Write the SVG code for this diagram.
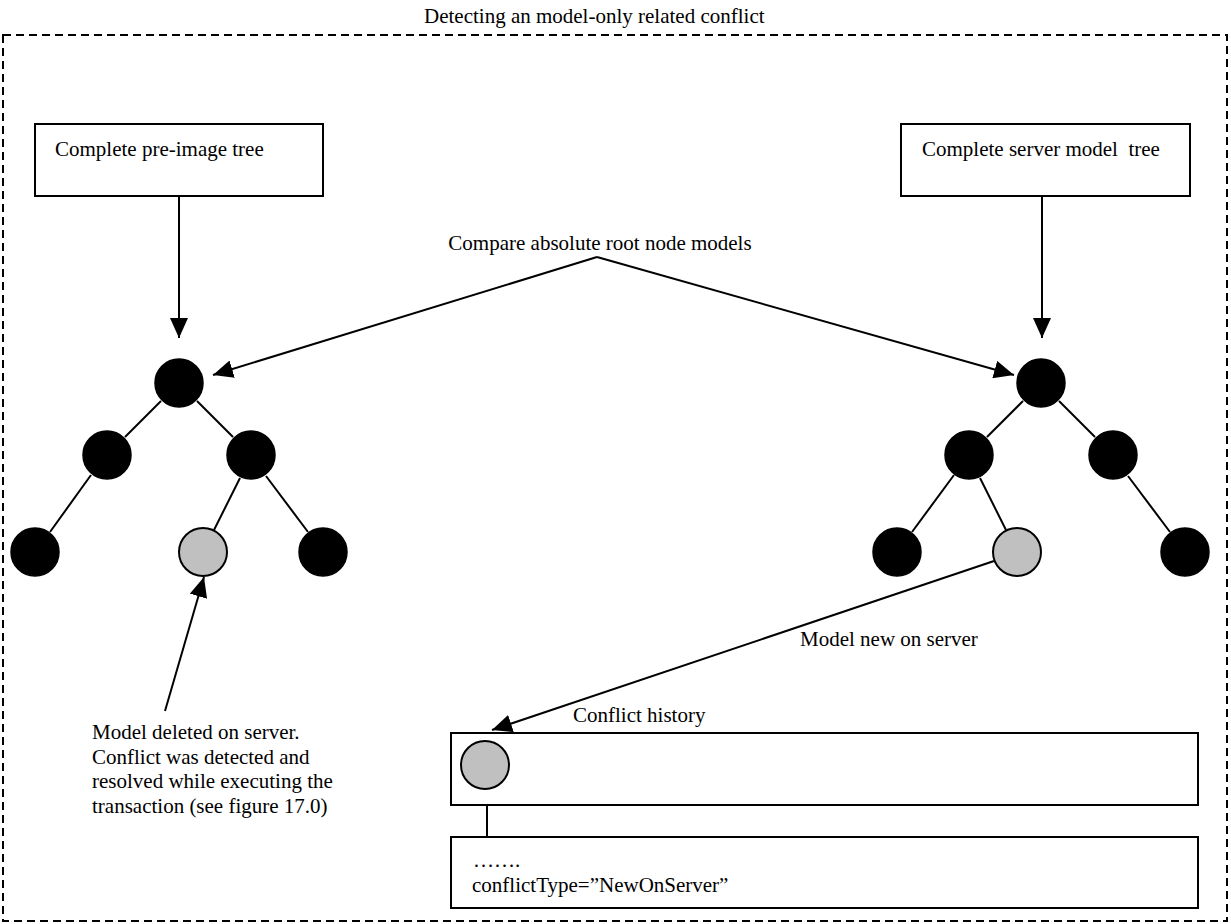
<svg xmlns="http://www.w3.org/2000/svg" width="1231" height="924" viewBox="0 0 1231 924">
<style>
text{font-family:"Liberation Serif","Times New Roman",serif;font-size:21px;fill:#000;white-space:pre}
.box{fill:#fff;stroke:#000;stroke-width:2}
.blk{fill:#000;stroke:#000;stroke-width:1.5}
.gry{fill:#c0c0c0;stroke:#000;stroke-width:2}
.ln{stroke:#000;stroke-width:2;fill:none}
.frame{fill:none;stroke:#000;stroke-width:2;stroke-dasharray:8 5}
</style>
<defs>
<marker id="ah" viewBox="0 0 20 18" refX="20" refY="9" markerWidth="20" markerHeight="18" markerUnits="userSpaceOnUse" orient="auto">
<path d="M0,0 L20,9 L0,18 Z" fill="#000"/>
</marker>
</defs>
<rect width="1231" height="924" fill="#fff"/>
<g id="title"><text x="424" y="23">Detecting an model-only related conflict</text></g>
<rect class="frame" x="3" y="35" width="1224" height="886"/>
<g id="connectors">
<line class="ln" x1="179" y1="196" x2="179" y2="338" marker-end="url(#ah)"/>
<line class="ln" x1="1042" y1="196" x2="1042" y2="338" marker-end="url(#ah)"/>
<line class="ln" x1="597" y1="257" x2="213" y2="375" marker-end="url(#ah)"/>
<line class="ln" x1="597" y1="257" x2="1014" y2="375" marker-end="url(#ah)"/>
<line class="ln" x1="161" y1="401" x2="125" y2="437"/>
<line class="ln" x1="197" y1="401" x2="233" y2="437"/>
<line class="ln" x1="91" y1="475" x2="50" y2="532"/>
<line class="ln" x1="240" y1="478" x2="214" y2="530"/>
<line class="ln" x1="266" y1="476" x2="308" y2="532"/>
<line class="ln" x1="1023" y1="401" x2="987" y2="437"/>
<line class="ln" x1="1059" y1="401" x2="1095" y2="437"/>
<line class="ln" x1="954" y1="475" x2="912" y2="532"/>
<line class="ln" x1="980" y1="478" x2="1006" y2="530"/>
<line class="ln" x1="1128" y1="476" x2="1170" y2="532"/>
<line class="ln" x1="994" y1="561" x2="492" y2="730" marker-end="url(#ah)"/>
<line class="ln" x1="165" y1="711" x2="204" y2="577" marker-end="url(#ah)"/>
<line class="ln" x1="487" y1="789" x2="487" y2="837"/>
</g>
<g id="preimage-box"><rect class="box" x="35" y="124" width="288" height="72"/><text x="55" y="156">Complete pre-image tree</text></g>
<g id="server-box"><rect class="box" x="901" y="124" width="289" height="72"/><text x="922" y="156">Complete server model  tree</text></g>
<g id="compare-label"><text x="600" y="250" text-anchor="middle">Compare absolute root node models</text></g>
<g id="left-tree">
<circle class="blk" cx="179" cy="383" r="24"/>
<circle class="blk" cx="107" cy="455" r="24"/>
<circle class="blk" cx="251" cy="455" r="24"/>
<circle class="blk" cx="35" cy="552" r="24"/>
<circle class="gry" cx="203" cy="552" r="24"/>
<circle class="blk" cx="323" cy="552" r="24"/>
</g>
<g id="right-tree">
<circle class="blk" cx="1041" cy="383" r="24"/>
<circle class="blk" cx="969" cy="455" r="24"/>
<circle class="blk" cx="1113" cy="455" r="24"/>
<circle class="blk" cx="897" cy="552" r="24"/>
<circle class="gry" cx="1017" cy="552" r="24"/>
<circle class="blk" cx="1185" cy="552" r="24"/>
</g>
<g id="deleted-note">
<text x="92" y="739">Model deleted on server.</text>
<text x="92" y="764">Conflict was detected and</text>
<text x="92" y="788">resolved while executing the</text>
<text x="92" y="813">transaction (see figure 17.0)</text>
</g>
<g id="new-label"><text x="800" y="646">Model new on server</text></g>
<g id="history-label"><text x="573" y="722">Conflict history</text></g>
<g id="history-box"><rect class="box" x="451" y="733" width="747" height="72"/><circle class="gry" cx="485" cy="765" r="24"/></g>
<g id="detail-box"><rect class="box" x="451" y="837" width="747" height="71"/><text x="473" y="867">…….</text><text x="472" y="892">conflictType=”NewOnServer”</text></g>
</svg>
